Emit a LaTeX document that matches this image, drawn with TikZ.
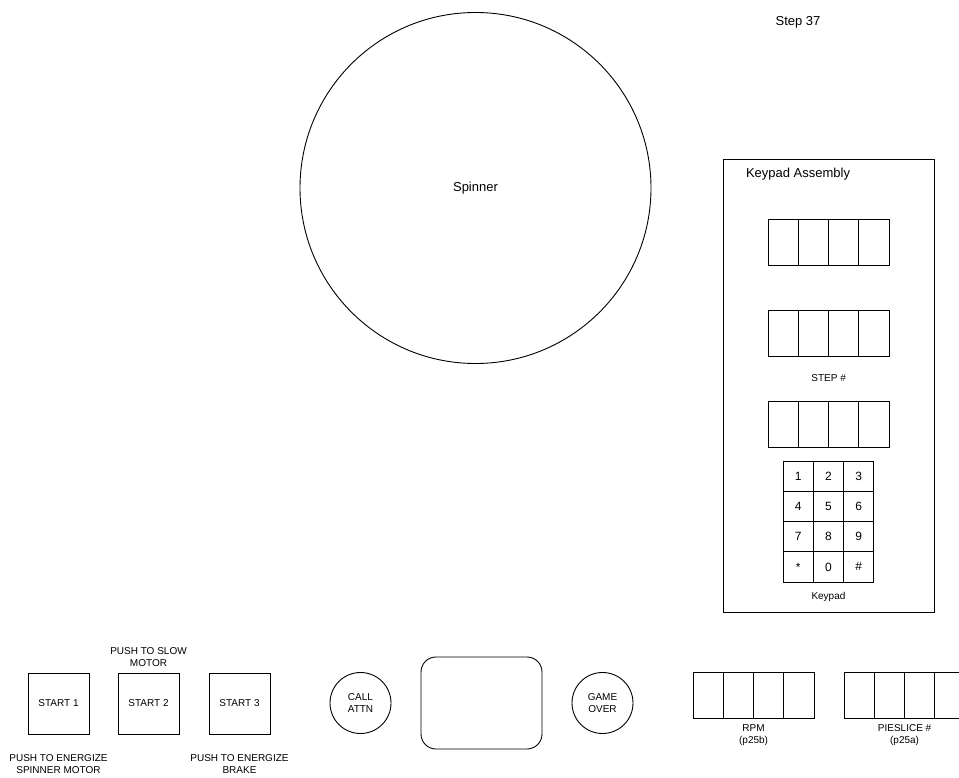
\documentclass[tikz,border=0pt]{standalone}
\usepackage{fontspec}
\setmainfont{Liberation Sans}
\usetikzlibrary{positioning}

\begin{document}
\begin{tikzpicture}[x=1pt,y=-1pt,line width=0.9pt,
	every node/.style={inner sep=0pt,outer sep=0pt},
	big/.style={font=\fontsize{13}{15}\selectfont},
	lbl/.style={font=\fontsize{10}{12}\selectfont,align=center},
	btn/.style={draw,lbl,minimum size=61},
	lamp/.style={draw,circle,lbl,minimum size=61},
	cell/.style={draw,minimum width=30.3,minimum height=46.5,anchor=north west},
	key/.style={draw,minimum width=30.3,minimum height=30.25,anchor=north west,
		font=\fontsize{12}{14}\selectfont}]
	
	\clip (0,0) rectangle (959,778);
	
	% spinner and step counter
	\node[draw,circle,minimum size=351,big] (spinner) at (475.5,188) {Spinner};
	\node[big] (step) at (798,22) {Step 37};
	
	% keypad assembly
	\node[draw,minimum width=211,minimum height=453,anchor=north west] (kpbox) at (723,159) {};
	\node[big,anchor=west] (kptitle) at (746,174) {Keypad Assembly};
	
	% four digit displays
	\foreach \n/\x/\y in {dispA/768/219, dispB/768/310, dispC/768/401, rpm/693/672, pie/844/672}
	\foreach \i in {0,...,3}
	\node[cell] (\n\i) at (\x+\i*30.3,\y) {};
	
	\node[lbl,above=19pt of dispC1.north east] (steplbl) {STEP \#};
	
	% keys, row by row
	\foreach \r/\a/\b/\c in {0/1/2/3, 1/4/5/6, 2/7/8/9, 3/{*}/0/{\#}} {
		\node[key] (key\r-1) at (783,461+\r*30.25) {\a};
		\node[key] (key\r-2) at (813.3,461+\r*30.25) {\b};
		\node[key] (key\r-3) at (843.6,461+\r*30.25) {\c};
	}
	\node[lbl,below=10pt of key3-2] (kplbl) {Keypad};
	
	% start buttons
	\node[btn] (start1) at (58.5,703.5) {START 1};
	\node[btn] (start2) at (148.5,703.5) {START 2};
	\node[btn] (start3) at (239.5,703.5) {START 3};
	
	\node[lbl,above=6pt of start2] (slow) {PUSH TO SLOW\\MOTOR};
	\node[lbl,below=21pt of start1] (energize) {PUSH TO ENERGIZE\\SPINNER MOTOR};
	\node[lbl,below=21pt of start3] (brake) {PUSH TO ENERGIZE\\BRAKE};
	
	% lamps and screen
	\node[lamp] (attn) at (360.5,703) {CALL\\ATTN};
	\node[draw,rounded corners=15pt,minimum width=121,minimum height=92] (screen) at (481.5,703) {};
	\node[lamp] (over) at (602.5,703) {GAME\\OVER};
	
	\node[lbl,below=6pt of rpm1.south east] (rpmlbl) {RPM\\(p25b)};
	\node[lbl,below=6pt of pie1.south east] (pielbl) {PIESLICE \#\\(p25a)};
\end{tikzpicture}
\end{document}
